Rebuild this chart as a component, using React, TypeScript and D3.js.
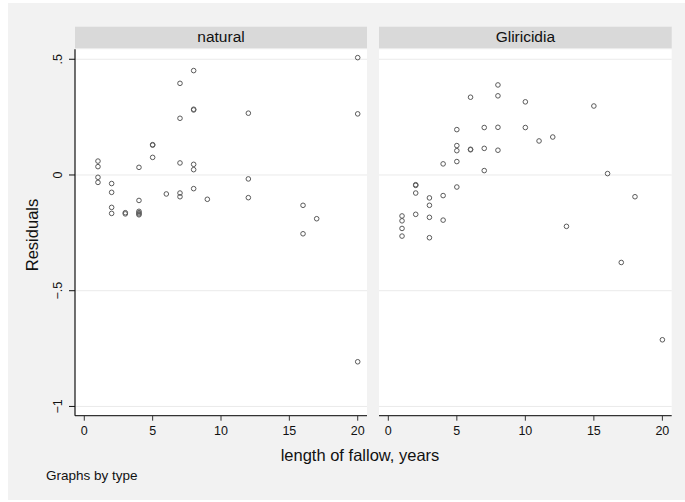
import React from "react";
import * as d3 from "d3";

// Residuals by length of fallow, one panel per fallow type
const panelTitles = ["natural", "Gliricidia"];

const naturalYears = [20, 20, 8, 7, 8, 8, 12, 7, 5, 5, 5, 1, 1, 1, 1, 4, 7, 8, 8, 2, 2, 12, 12, 6, 7, 7, 8, 9, 4, 2, 2, 3, 3, 4, 4, 4, 4, 16, 16, 17, 20];
const naturalResid = [0.507, 0.264, 0.451, 0.396, 0.281, 0.284, 0.267, 0.245, 0.131, 0.129, 0.076, 0.06, 0.036, -0.01, -0.032, 0.033, 0.052, 0.046, 0.023, -0.037, -0.075, -0.017, -0.098, -0.082, -0.078, -0.094, -0.059, -0.105, -0.11, -0.14, -0.166, -0.163, -0.168, -0.157, -0.163, -0.168, -0.172, -0.131, -0.254, -0.189, -0.807];

const gliricidiaYears = [8, 8, 6, 10, 15, 5, 7, 8, 10, 11, 12, 5, 5, 6, 6, 7, 8, 4, 5, 7, 16, 2, 2, 2, 5, 3, 3, 4, 18, 1, 1, 1, 1, 2, 3, 3, 4, 13, 17, 20];
const gliricidiaResid = [0.389, 0.342, 0.336, 0.316, 0.298, 0.196, 0.205, 0.206, 0.205, 0.147, 0.164, 0.127, 0.105, 0.111, 0.109, 0.115, 0.107, 0.048, 0.058, 0.019, 0.006, -0.042, -0.045, -0.078, -0.052, -0.099, -0.131, -0.089, -0.094, -0.177, -0.198, -0.231, -0.264, -0.17, -0.183, -0.271, -0.195, -0.222, -0.378, -0.712];

const xTicks = [0, 5, 10, 15, 20];
const yTicks = [0.5, 0, -0.5, -1];
const yTickLabels = [".5", "0", "\u2212.5", "\u22121"];

const W = 685;
const H = 502;
const FONT = "'Liberation Sans', Arial, Helvetica, sans-serif";

const plotTop = 49.3;
const plotBottom = 415.7;
const stripTop = 26.7;
const panelRanges: [number, number][] = [
  [75, 367],
  [379, 671.7],
];

const y = d3.scaleLinear().domain([-1.04, 0.543]).range([plotBottom, plotTop]);

export default function App() {
  const panels = [
    { title: panelTitles[0], xs: naturalYears, ys: naturalResid },
    { title: panelTitles[1], xs: gliricidiaYears, ys: gliricidiaResid },
  ];
  return (
    <svg
      width={W}
      height={H}
      style={{ position: "absolute", left: 0, top: 0, display: "block" }}
      fontFamily={FONT}
    >
      <rect x={0} y={0} width={W} height={H} fill="#ffffff" />
      <rect x={8} y={3} width={W - 8} height={497} fill="#f2f2f2" />

      {panels.map((p, i) => {
        const [x0, x1] = panelRanges[i];
        const x = d3.scaleLinear().domain([-0.68, 20.68]).range([x0, x1]);
        return (
          <g key={p.title}>
            {/* strip */}
            <rect x={x0} y={stripTop} width={x1 - x0} height={plotTop - stripTop - 1} fill="#d9d9d9" />
            <text x={(x0 + x1) / 2} y={42} textAnchor="middle" fontSize={15.5} fill="#111">
              {p.title}
            </text>
            {/* plot region */}
            <rect x={x0} y={plotTop} width={x1 - x0} height={plotBottom - plotTop} fill="#ffffff" />
            {yTicks.map((t) => (
              <line key={t} x1={x0} x2={x1} y1={y(t)} y2={y(t)} stroke="#eaeaea" strokeWidth={1} />
            ))}
            {/* x axis */}
            <line x1={x0} x2={x1} y1={plotBottom} y2={plotBottom} stroke="#333" strokeWidth={1.2} />
            {xTicks.map((t) => (
              <g key={t}>
                <line x1={x(t)} x2={x(t)} y1={plotBottom} y2={plotBottom + 5} stroke="#333" strokeWidth={1} />
                <text x={x(t)} y={435} textAnchor="middle" fontSize={12.5} fill="#111">
                  {t}
                </text>
              </g>
            ))}
            {/* y axis on the first panel */}
            {i === 0 && (
              <g>
                <line x1={x0} x2={x0} y1={plotTop} y2={plotBottom} stroke="#111" strokeWidth={1.2} />
                {yTicks.map((t, k) => (
                  <g key={t}>
                    <line x1={x0 - 6} x2={x0} y1={y(t)} y2={y(t)} stroke="#111" strokeWidth={1} />
                    <text
                      transform={`translate(62,${y(t)}) rotate(-90)`}
                      textAnchor="middle"
                      fontSize={12.5}
                      fill="#111"
                    >
                      {yTickLabels[k]}
                    </text>
                  </g>
                ))}
              </g>
            )}
            {/* markers */}
            {p.xs.map((v, k) => (
              <circle
                key={k}
                cx={x(v)}
                cy={y(p.ys[k])}
                r={2.3}
                fill="none"
                stroke="#5a5a5a"
                strokeWidth={1}
              />
            ))}
          </g>
        );
      })}

      <text transform={`translate(38,235) rotate(-90)`} textAnchor="middle" fontSize={16.5} fill="#111">
        Residuals
      </text>
      <text x={360} y={460.5} textAnchor="middle" fontSize={16.5} fill="#111">
        length of fallow, years
      </text>
      <text x={46} y={480} fontSize={13.5} fill="#111">
        Graphs by type
      </text>
    </svg>
  );
}
